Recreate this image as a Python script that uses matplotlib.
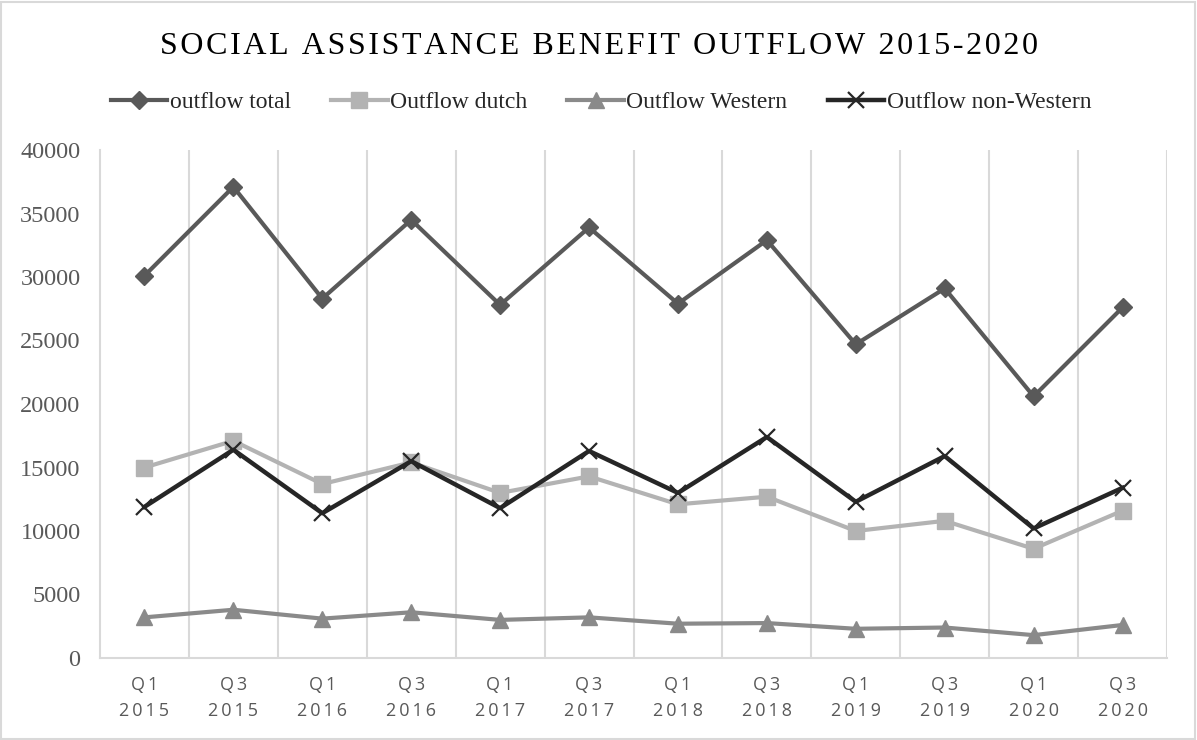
import matplotlib.pyplot as plt
from matplotlib.patches import Rectangle

# Data
quarters = ['Q1', 'Q3', 'Q1', 'Q3', 'Q1', 'Q3', 'Q1', 'Q3', 'Q1', 'Q3', 'Q1', 'Q3']
years = ['2015', '2015', '2016', '2016', '2017', '2017', '2018', '2018', '2019', '2019', '2020', '2020']

outflow_total = [30100, 37100, 28300, 34500, 27800, 33900, 27900, 32900, 24700, 29100, 20600, 27600]
outflow_dutch = [15000, 17100, 13700, 15400, 13000, 14300, 12100, 12700, 10000, 10800, 8600, 11600]
outflow_western = [3200, 3800, 3100, 3600, 3000, 3200, 2700, 2750, 2300, 2400, 1800, 2600]
outflow_non_western = [11900, 16400, 11400, 15500, 11800, 16300, 13000, 17400, 12300, 15900, 10200, 13400]


def spaced(s, sep='\u2009'):
    return sep.join(s)


serif = ['Liberation Serif', 'DejaVu Serif']
sans = ['Open Sans', 'DejaVu Sans']

fig = plt.figure(figsize=(11.97, 7.40), dpi=100)
ax = fig.add_axes([100 / 1197, 1 - 658 / 740, 1067 / 1197, 508 / 740])

x = list(range(len(quarters)))

ax.plot(x, outflow_total, color='#595959', lw=3, marker='D', ms=9, label='outflow total')
ax.plot(x, outflow_dutch, color='#b3b3b3', lw=3, marker='s', ms=11, label='Outflow dutch')
ax.plot(x, outflow_western, color='#8a8a8a', lw=3, marker='^', ms=12, label='Outflow Western')
ax.plot(x, outflow_non_western, color='#262626', lw=3.2, marker='x', ms=11, mew=1.6,
        label='Outflow non-Western')

ax.set_xlim(-0.5, len(x) - 0.5)
ax.set_ylim(0, 40000)
ax.set_yticks(range(0, 40001, 5000))

ax.set_xticks(x)
ax.set_xticklabels([spaced(q) + '\n' + spaced(y) for q, y in zip(quarters, years)],
                   family=sans, fontsize=13, color='#595959', linespacing=1.55)
ax.set_xticks([i + 0.5 for i in x[:-1]], minor=True)
ax.tick_params(axis='x', which='both', length=0, pad=13)
ax.tick_params(axis='y', length=0, pad=14, labelcolor='#595959', labelsize=17.5)
for lab in ax.get_yticklabels():
    lab.set_family(serif)

ax.grid(True, axis='x', which='minor', color='#d9d9d9', lw=1.5)
for side in ['top', 'right']:
    ax.spines[side].set_visible(False)
ax.spines['left'].set_color('#d9d9d9')
ax.spines['bottom'].set_color('#d9d9d9')
ax.spines['left'].set_linewidth(1.5)
ax.spines['bottom'].set_linewidth(1.5)
ax.axvline(len(x) - 0.5, color='#d9d9d9', lw=1.5)

fig.text(0.5, 1 - 46 / 740, spaced('SOCIAL ASSISTANCE BENEFIT OUTFLOW 2015-2020', '\u200a'),
         ha='center', va='center', fontsize=23, family=serif, color='#000000')

fig.legend(loc='center', bbox_to_anchor=(0.502, 1 - 102 / 740), ncol=4, frameon=False,
           prop={'family': serif, 'size': 17}, handlelength=2.4, columnspacing=1.7,
           handletextpad=0.1, labelcolor='#262626')

fig.patches.append(Rectangle((0.001, 0.002), 0.997, 0.995, transform=fig.transFigure,
                             fill=False, edgecolor='#d9d9d9', lw=1.5))

fig.savefig('out.png', dpi=100)
